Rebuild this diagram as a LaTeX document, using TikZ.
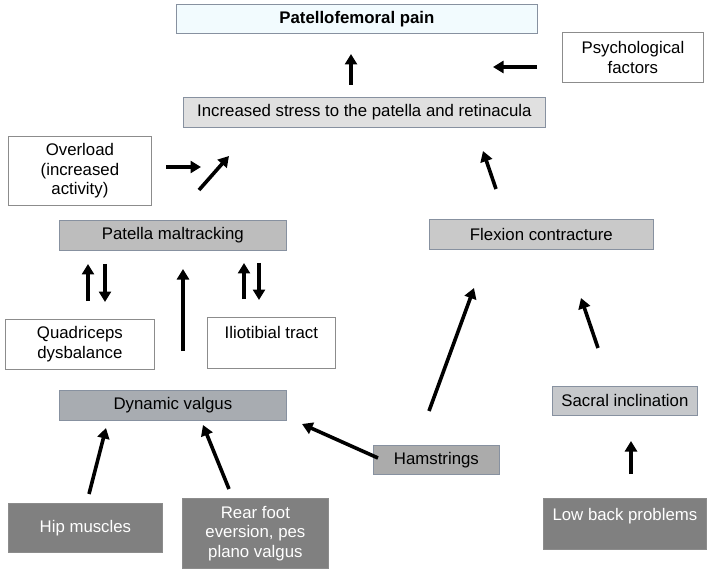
\documentclass[tikz,border=0pt]{standalone}
\usepackage{fontspec}
\setmainfont{Liberation Sans}
\usetikzlibrary{arrows.meta}
\definecolor{bordc}{RGB}{135,145,160}
\definecolor{dvfill}{RGB}{168,172,177}
\definecolor{sacfill}{RGB}{198,200,203}
\begin{document}
\begin{tikzpicture}[x=1pt,y=-1pt,
  box/.style={draw=bordc, line width=0.8pt, align=center, font=\fontsize{16.8}{19.5}\selectfont, inner sep=0pt, anchor=north west},
  wbox/.style={box, fill=white, draw=black!45},
  darkbox/.style={box, fill=black!50, draw=black!45, text=white},
  arr/.style={line width=3.6pt, -{Triangle[width=12pt,length=10.5pt]}}]
\useasboundingbox (0,0) rectangle (709,569);
\node[box, fill=cyan!5, minimum width=361pt, minimum height=29pt, font=\bfseries\fontsize{16.8}{19.5}\selectfont] (pfp) at (176,4) {Patellofemoral pain};
\node[wbox, minimum width=141pt, minimum height=50pt] (psy) at (562,32) {Psychological\\factors};
\node[box, fill=black!12, minimum width=362pt, minimum height=30pt] (stress) at (183,97) {Increased stress to the patella and retinacula};
\node[wbox, minimum width=143pt, minimum height=69pt] (over) at (8,136) {Overload\\(increased\\activity)};
\node[box, fill=black!26, minimum width=227pt, minimum height=30pt] (pm) at (59,220) {Patella maltracking};
\node[box, fill=black!21, minimum width=224pt, minimum height=30pt] (flex) at (429,219) {Flexion contracture};
\node[wbox, minimum width=149pt, minimum height=50pt] (quad) at (5,319) {Quadriceps\\dysbalance};
\node[wbox, minimum width=128pt, minimum height=51pt, text depth=20pt] (ilio) at (207,317) {Iliotibial tract};
\node[box, fill=dvfill, minimum width=227pt, minimum height=30pt] (dv) at (59,390) {Dynamic valgus};
\node[box, fill=sacfill, minimum width=145pt, minimum height=29pt] (sacral) at (552,386) {Sacral inclination};
\node[box, fill=black!33, minimum width=126pt, minimum height=29pt] (ham) at (373,445) {Hamstrings};
\node[darkbox, minimum width=154pt, minimum height=49pt] (hip) at (8,503) {Hip muscles};
\node[darkbox, minimum width=146pt, minimum height=70pt] (rear) at (182,498) {Rear foot\\eversion, pes\\plano valgus};
\node[darkbox, minimum width=163pt, minimum height=51pt, text depth=18pt] (low) at (543,498) {Low back problems};
% arrow end points
\coordinate (a1s) at (351,85); \coordinate (a1e) at (351,54);
\coordinate (a2s) at (537,67); \coordinate (a2e) at (493,67);
\coordinate (a3s) at (166,167); \coordinate (a3e) at (201,167);
\coordinate (a4s) at (199,190); \coordinate (a4e) at (229,156);
\coordinate (a5s) at (496,189); \coordinate (a5e) at (483,151);
\coordinate (a6s) at (88,301); \coordinate (a6e) at (88,264);
\coordinate (a7s) at (105,264); \coordinate (a7e) at (105,302);
\coordinate (a8s) at (244,299); \coordinate (a8e) at (244,263);
\coordinate (a9s) at (259,263); \coordinate (a9e) at (259,300);
\coordinate (a10s) at (183,351); \coordinate (a10e) at (183,269);
\coordinate (a11s) at (429,411); \coordinate (a11e) at (474,288);
\coordinate (a12s) at (598,348); \coordinate (a12e) at (581,298);
\coordinate (a13s) at (631,474); \coordinate (a13e) at (631,441);
\coordinate (a14s) at (378,458); \coordinate (a14e) at (302,424);
\coordinate (a15s) at (89,494); \coordinate (a15e) at (106,428);
\coordinate (a16s) at (229,489); \coordinate (a16e) at (203,425);
\foreach \i in {1,...,16} \draw[arr] (a\i s) -- (a\i e);
\end{tikzpicture}
\end{document}
